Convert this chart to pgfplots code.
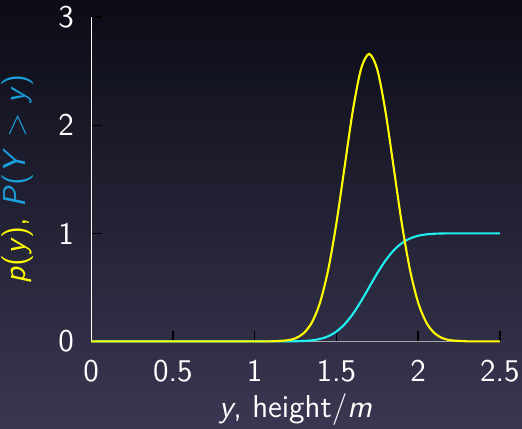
\documentclass[border=0pt]{standalone}
\usepackage{pgfplots}
\pgfplotsset{compat=1.18}
\usepackage{xcolor}
\definecolor{bgtop}{HTML}{0B0C16}
\definecolor{bgbot}{HTML}{3A3752}
\definecolor{pdfyellow}{HTML}{FFFF00}
\definecolor{cdfcyan}{HTML}{20F0F0}
\definecolor{labcyan}{HTML}{1AA0DC}

\begin{document}
\begin{tikzpicture}
\shade[top color=bgtop,bottom color=bgbot] (-34.6pt,-33pt) rectangle (163.4pt,129.5pt);
\begin{axis}[
  scale only axis,
  width=155pt,height=123pt,
  xmin=0,xmax=2.5,ymin=0,ymax=3,
  axis x line*=bottom, axis y line*=left,
  x axis line style={draw=gray!70,-},
  y axis line style={draw=white,-},
  xtick={0,0.5,1,1.5,2,2.5},
  ytick={0,1,2,3},
  tick align=inside,
  major tick length=4pt,
  tick style={black,line width=0.5pt},
  ticklabel style={font=\fontsize{12}{14}\selectfont\sffamily,text=white},
  /pgf/number format/assume math mode=true,
  xticklabel style={yshift=-3.5pt},
  yticklabel style={xshift=-3pt},
  xlabel={\textsl{y}, height$/$\textsl{m}},
  xlabel style={font=\fontsize{12}{14}\selectfont\sffamily,text=white,
    at={(axis description cs:0.5,-0.211)},anchor=center},
  ylabel={\textcolor{pdfyellow}{\textsl{p}(\textsl{y}),} \textcolor{labcyan}{\textsl{P}(\textsl{Y} $>$ \textsl{y})}},
  ylabel style={font=\fontsize{12}{14}\selectfont\sffamily,
    at={(axis description cs:-0.18,0.5)},anchor=center},
  clip=false,
]
\addplot[cdfcyan,line width=0.8pt,smooth] coordinates {
(0,0) (1.0,0) (1.1,0.00003) (1.2,0.00043) (1.25,0.00135) (1.3,0.00383) (1.35,0.00982)
(1.4,0.02275) (1.45,0.04779) (1.5,0.09121) (1.55,0.15866) (1.6,0.25249) (1.65,0.36944)
(1.7,0.5) (1.75,0.63056) (1.8,0.74751) (1.85,0.84134) (1.9,0.90879) (1.95,0.95221)
(2.0,0.97725) (2.05,0.99018) (2.1,0.99617) (2.15,0.99865) (2.2,0.99957) (2.3,0.99997)
(2.4,1) (2.5,1)};
\addplot[pdfyellow,line width=0.8pt,smooth] coordinates {
(0,0) (1.0,0) (1.1,0.0009) (1.2,0.0103) (1.25,0.0295) (1.3,0.0760) (1.35,0.1748)
(1.4,0.3599) (1.45,0.6634) (1.5,1.0934) (1.55,1.6131) (1.6,2.1296) (1.65,2.5160)
(1.7,2.6596) (1.75,2.5160) (1.8,2.1296) (1.85,1.6131) (1.9,1.0934) (1.95,0.6634)
(2.0,0.3599) (2.05,0.1748) (2.1,0.0760) (2.15,0.0295) (2.2,0.0103) (2.3,0.0009)
(2.4,0) (2.5,0)};
\end{axis}
\pgfresetboundingbox
\path[use as bounding box] (-34.6pt,-33pt) rectangle (163.4pt,129.5pt);
\end{tikzpicture}
\end{document}
